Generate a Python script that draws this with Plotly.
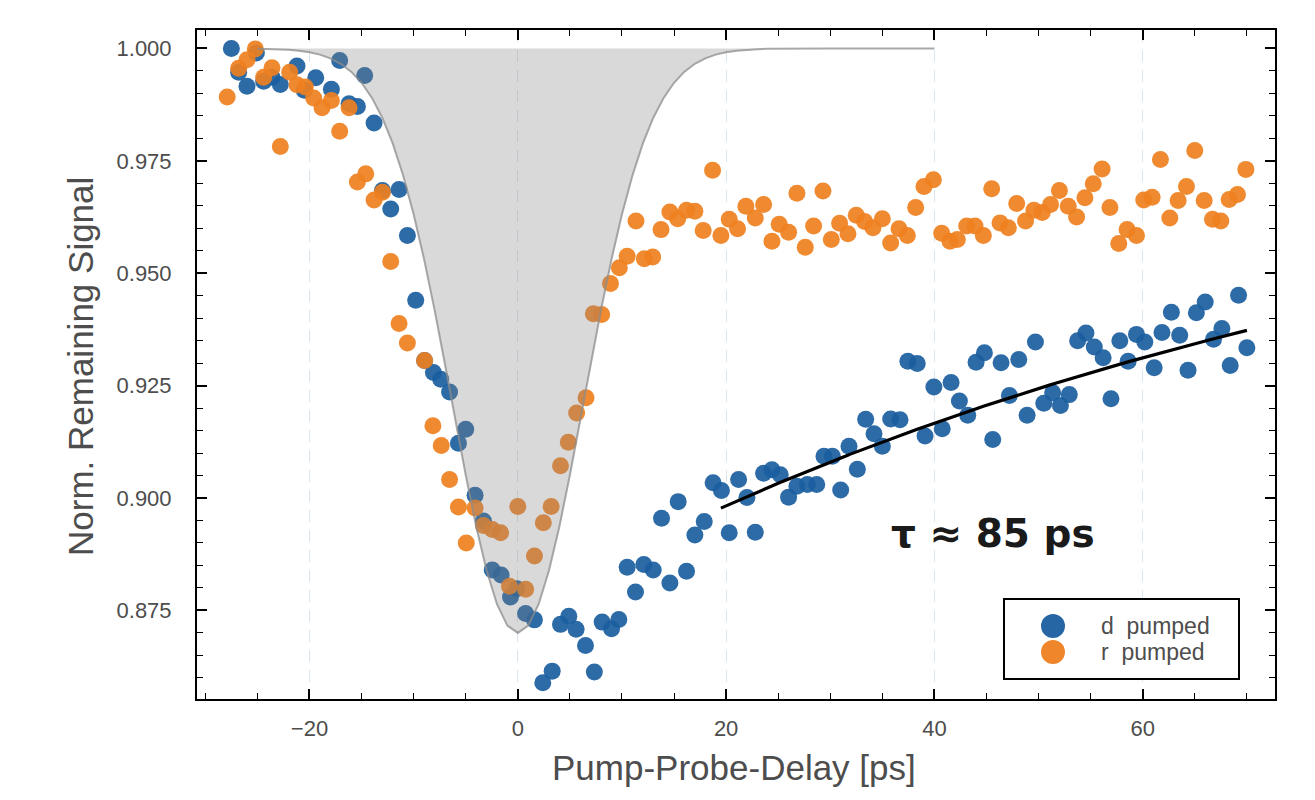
import numpy as np
import plotly.graph_objects as go

# ---- measured signal, d pumped ----
d_delay = [-27.5, -26.8, -26.0, -25.1, -24.4, -23.6, -22.8, -21.2, -20.5, -19.4,
           -17.9, -17.1, -16.2, -15.4, -14.7, -13.8, -13.0, -12.2, -11.4, -10.6,
           -9.8, -8.95, -8.1, -7.4, -6.55, -5.7, -5.0, -4.1, -3.3, -2.45,
           -1.6, -0.7, -0.1, 0.75, 1.6, 2.4, 3.3, 4.1, 4.9, 5.6,
           6.5, 7.35, 8.1, 9.0, 9.7, 10.5, 11.3, 12.1, 13.0, 13.8,
           14.6, 15.4, 16.2, 17.0, 17.9, 18.75, 19.55, 20.3, 21.2, 22.0,
           22.8, 23.6, 24.4, 25.2, 26.0, 26.8, 27.8, 28.7, 29.4, 30.2,
           31.0, 31.8, 32.6, 33.4, 34.2, 35.0, 35.8, 36.7, 37.45, 38.35,
           39.1, 39.95, 40.75, 41.6, 42.4, 43.2, 44.0, 44.8, 45.6, 46.4,
           47.2, 48.1, 48.9, 49.7, 50.5, 51.35, 52.1, 52.95, 53.75, 54.55,
           55.35, 56.2, 56.95, 57.8, 58.6, 59.4, 60.2, 61.1, 61.85, 62.75,
           63.55, 64.35, 65.15, 66.0, 66.8, 67.6, 68.4, 69.2, 70.0]
d_signal = [1.000, 0.9947, 0.9916, 0.999, 0.9927, 0.9936, 0.992, 0.9961, 0.9907, 0.9935,
            0.9909, 0.9973, 0.9877, 0.9871, 0.994, 0.9834, 0.9684, 0.9643, 0.9686, 0.9584,
            0.9440, 0.9306, 0.9279, 0.9264, 0.9236, 0.9122, 0.9153, 0.9006, 0.8949, 0.8840,
            0.8829, 0.8780, 0.8798, 0.8743, 0.8729, 0.8589, 0.8615, 0.8719, 0.8737, 0.8708,
            0.8672, 0.8613, 0.8724, 0.8709, 0.8730, 0.8846, 0.8791, 0.8852, 0.8840, 0.8955,
            0.8811, 0.8992, 0.8837, 0.8918, 0.8948, 0.9034, 0.9017, 0.8923, 0.9041, 0.9001,
            0.8924, 0.9055, 0.9063, 0.9052, 0.9002, 0.9026, 0.9030, 0.9030, 0.9093, 0.9093,
            0.9018, 0.9115, 0.9064, 0.9175, 0.9143, 0.9115, 0.9176, 0.9174, 0.9304, 0.9299,
            0.9138, 0.9247, 0.9154, 0.9257, 0.9216, 0.9184, 0.9302, 0.9323, 0.9130, 0.9301,
            0.9228, 0.9308, 0.9184, 0.9347, 0.9211, 0.9234, 0.9206, 0.9230, 0.9350, 0.9367,
            0.9336, 0.9312, 0.9221, 0.9350, 0.9304, 0.9364, 0.9347, 0.9290, 0.9368, 0.9413,
            0.9362, 0.9284, 0.9412, 0.9436, 0.9353, 0.9377, 0.9295, 0.9451, 0.9334]

# ---- measured signal, r pumped ----
r_delay = [-27.9, -26.8, -26.0, -25.2, -24.4, -23.6, -22.8, -21.9, -21.2, -20.4,
           -19.6, -18.8, -17.9, -17.1, -16.2, -15.4, -14.6, -13.8, -13.0, -12.2,
           -11.4, -10.6, -8.95, -8.15, -7.35, -6.55, -5.7, -4.95, -4.1, -3.3,
           -2.45, -1.65, -0.8, 0.0, 0.75, 1.6, 2.45, 3.2, 4.1, 4.85,
           5.65, 6.55, 7.25, 8.05, 8.9, 9.75, 10.5, 11.35, 12.15, 12.95,
           13.75, 14.6, 15.35, 16.2, 17.0, 17.8, 18.7, 19.5, 20.3, 21.1,
           21.9, 22.8, 23.6, 24.4, 25.1, 26.0, 26.8, 27.6, 28.4, 29.3,
           30.1, 30.9, 31.7, 32.5, 33.3, 34.1, 35.0, 35.8, 36.6, 37.4,
           38.2, 39.0, 39.9, 40.7, 41.5, 42.2, 43.1, 43.9, 44.7, 45.5,
           46.3, 47.1, 47.9, 48.75, 49.55, 50.35, 51.15, 52.0, 52.85, 53.65,
           54.45, 55.25, 56.1, 56.85, 57.7, 58.5, 59.4, 60.1, 60.9, 61.7,
           62.6, 63.4, 64.2, 65.0, 65.9, 66.7, 67.5, 68.3, 69.1, 69.9]
r_signal = [0.9892, 0.9956, 0.9975, 0.9999, 0.9936, 0.9957, 0.9782, 0.9947, 0.9919, 0.9914,
            0.9890, 0.9868, 0.9884, 0.9816, 0.9868, 0.9703, 0.9721, 0.9663, 0.9680, 0.9526,
            0.9388, 0.9345, 0.9306, 0.9161, 0.9117, 0.9041, 0.8980, 0.8900, 0.8978, 0.8939,
            0.8930, 0.8923, 0.8804, 0.8981, 0.8797, 0.8871, 0.8945, 0.8981, 0.9072, 0.9124,
            0.9189, 0.9223, 0.9410, 0.9408, 0.9477, 0.9512, 0.9538, 0.9616, 0.9532, 0.9536,
            0.9597, 0.9636, 0.9621, 0.9640, 0.9638, 0.9595, 0.9729, 0.9584, 0.9620, 0.9599,
            0.9649, 0.9623, 0.9653, 0.9571, 0.9609, 0.9591, 0.9678, 0.9558, 0.9605, 0.9683,
            0.9575, 0.9611, 0.9588, 0.9629, 0.9615, 0.9601, 0.9621, 0.9567, 0.9599, 0.9584,
            0.9646, 0.9693, 0.9708, 0.9589, 0.9571, 0.9575, 0.9605, 0.9605, 0.9584, 0.9688,
            0.9612, 0.9601, 0.9655, 0.9616, 0.9640, 0.9635, 0.9653, 0.9684, 0.9649, 0.9625,
            0.9668, 0.9699, 0.9732, 0.9646, 0.9566, 0.9597, 0.9584, 0.9663, 0.9669, 0.9753,
            0.9623, 0.9662, 0.9693, 0.9773, 0.9662, 0.9620, 0.9616, 0.9664, 0.9675, 0.9731]

# ---- pump pulse profile (Gaussian, sampled every 1 ps) ----
PULSE_START, PULSE_END, PULSE_STEP = -25, 40, 1
PULSE_DEPTH = 0.13
PULSE_SIGMA = 6.3

# ---- exponential recovery fit of the d-pumped signal ----
TAU_PS = 85
FIT_START, FIT_END = 19.5, 70.0
FIT_Y_INF = 0.9860
FIT_AMP = 0.1110

BLUE = "#1b5e9f"
ORANGE = "#ef8020"
FONT = "Liberation Sans, Arial, Helvetica, sans-serif"
BOLD_FONT = "DejaVu Sans, Liberation Sans, Arial, sans-serif"
TEXT_GRAY = "#4d4d4d"

X_RANGE = [-30.8, 72.7]
Y_RANGE = [0.8553, 1.0041]

W, H = 1315, 800
ML, MR, MT, MB = 197, 40, 30, 101
PW, PH = W - ML - MR, H - MT - MB


def px_x(px):
    return (px - ML) / PW


def px_y(py):
    return (H - MB - py) / PH


pulse_t = np.arange(PULSE_START, PULSE_END + PULSE_STEP, PULSE_STEP, dtype=float)
pulse_y = 1.0 - PULSE_DEPTH * np.exp(-pulse_t ** 2 / (2 * PULSE_SIGMA ** 2))

fit_t = np.linspace(FIT_START, FIT_END, 200)
fit_y = FIT_Y_INF - FIT_AMP * np.exp(-fit_t / TAU_PS)

fig = go.Figure()

fig.add_trace(go.Scatter(
    x=d_delay, y=d_signal, mode="markers", name="d  pumped",
    marker=dict(color=BLUE, size=17, opacity=0.92, line=dict(width=0)),
    showlegend=False,
))
fig.add_trace(go.Scatter(
    x=r_delay, y=r_signal, mode="markers", name="r  pumped",
    marker=dict(color=ORANGE, size=17, opacity=0.92, line=dict(width=0)),
    showlegend=False,
))

# translucent pump-pulse area laid over the data
fig.add_trace(go.Scatter(
    x=list(pulse_t) + list(pulse_t[::-1]),
    y=list(pulse_y) + [1.0] * len(pulse_t),
    mode="lines", fill="toself", fillcolor="rgba(128,128,128,0.30)",
    line=dict(width=0), hoverinfo="skip", showlegend=False,
))
fig.add_trace(go.Scatter(
    x=pulse_t, y=pulse_y, mode="lines",
    line=dict(color="rgba(140,140,140,0.75)", width=2),
    hoverinfo="skip", showlegend=False,
))

fig.add_trace(go.Scatter(
    x=fit_t, y=fit_y, mode="lines",
    line=dict(color="black", width=3.2),
    hoverinfo="skip", showlegend=False,
))

axis_common = dict(
    showline=True, linewidth=2, linecolor="black", mirror="allticks",
    ticks="inside", ticklen=10, tickwidth=1.6, tickcolor="black",
    zeroline=False,
    tickfont=dict(family=FONT, size=22, color=TEXT_GRAY),
)

fig.update_xaxes(
    range=X_RANGE, tick0=0, dtick=20,
    showgrid=True, gridcolor="#dbe5f0", gridwidth=1.2, griddash="12px,8px",
    minor=dict(dtick=5, tick0=0, ticks="inside", ticklen=6, tickwidth=1.4,
               tickcolor="black", showgrid=False),
    ticklabelstandoff=9,
    **axis_common,
)
fig.update_yaxes(
    range=Y_RANGE, tick0=0.875, dtick=0.025, tickformat=".3f",
    showgrid=False,
    minor=dict(dtick=0.005, tick0=0.875, ticks="inside", ticklen=6, tickwidth=1.4,
               tickcolor="black", showgrid=False),
    ticklabelstandoff=19,
    **axis_common,
)

annotations = [
    dict(text="Pump-Probe-Delay [ps]", xref="paper", yref="paper",
         x=px_x(734), y=px_y(767), xanchor="center", yanchor="middle",
         showarrow=False, font=dict(family=FONT, size=35, color=TEXT_GRAY)),
    dict(text="Norm. Remaining Signal", xref="paper", yref="paper",
         x=px_x(80), y=px_y(367), xanchor="center", yanchor="middle",
         textangle=-90, showarrow=False,
         font=dict(family=FONT, size=35, color=TEXT_GRAY)),
    dict(text=f"<b>τ ≈ {TAU_PS} ps</b>", xref="paper", yref="paper",
         x=px_x(993), y=px_y(533), xanchor="center", yanchor="middle",
         showarrow=False, font=dict(family=BOLD_FONT, size=39, color="#1a1a1a")),
    dict(text="d\u00a0 pumped", xref="paper", yref="paper",
         x=px_x(1099), y=px_y(626), xanchor="left", yanchor="middle",
         showarrow=False, font=dict(family=FONT, size=23, color=TEXT_GRAY)),
    dict(text="r\u00a0 pumped", xref="paper", yref="paper",
         x=px_x(1099), y=px_y(652), xanchor="left", yanchor="middle",
         showarrow=False, font=dict(family=FONT, size=23, color=TEXT_GRAY)),
]

shapes = [
    dict(type="rect", xref="paper", yref="paper",
         x0=px_x(1004), x1=px_x(1239), y0=px_y(679), y1=px_y(599),
         line=dict(color="black", width=2), fillcolor="white", layer="above"),
]
for color, cy in ((BLUE, 626), (ORANGE, 652)):
    shapes.append(dict(
        type="circle", xref="paper", yref="paper",
        xsizemode="pixel", ysizemode="pixel",
        xanchor=px_x(1053), yanchor=px_y(cy),
        x0=-12, x1=12, y0=-12, y1=12,
        fillcolor=color, line=dict(width=0), opacity=0.95, layer="above",
    ))

fig.update_layout(
    width=W, height=H,
    margin=dict(l=ML, r=MR, t=MT, b=MB, autoexpand=False),
    paper_bgcolor="white", plot_bgcolor="white",
    font=dict(family=FONT, color=TEXT_GRAY),
    showlegend=False,
    annotations=annotations,
    shapes=shapes,
)

fig.write_html("out.html")
